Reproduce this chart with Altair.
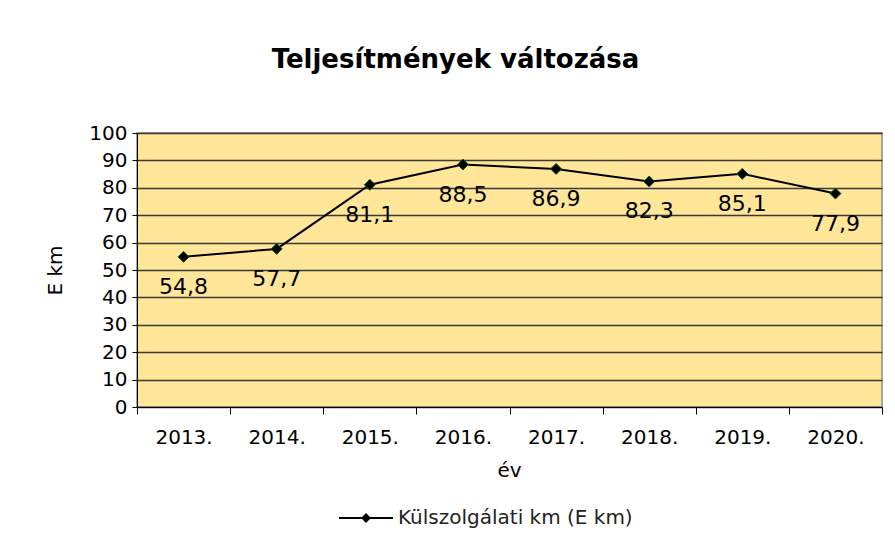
import altair as alt
import pandas as pd

years = ["2013.", "2014.", "2015.", "2016.", "2017.", "2018.", "2019.", "2020."]
values = [54.8, 57.7, 81.1, 88.5, 86.9, 82.3, 85.1, 77.9]
series_name = "Külszolgálati km (E km)"
y_ticks = list(range(0, 101, 10))

df = pd.DataFrame({
    "ev": years,
    "km": values,
    "label": [f"{v:.1f}".replace(".", ",") for v in values],
    "series": [series_name] * len(years),
})

FONT = "DejaVu Sans"

x = alt.X(
    "ev:N", sort=years, title="év",
    scale=alt.Scale(paddingInner=0, paddingOuter=0),
    axis=alt.Axis(
        labelAngle=0, tickBand="extent", tickSize=7, tickColor="black",
        domainColor="black", labelFont=FONT, labelFontSize=20, labelColor="black",
        labelBaseline="middle", labelPadding=23, grid=False,
        titleFont=FONT, titleFontSize=20, titleFontWeight="normal", titleColor="black",
        titleX=372, titleY=63, titleBaseline="middle", titleAlign="center",
    ),
)
y = alt.Y(
    "km:Q", title="E km",
    scale=alt.Scale(domain=[0, 100], nice=False),
    axis=alt.Axis(
        values=y_ticks, tickSize=5, tickColor="black", domainColor="black",
        labelFont=FONT, labelFontSize=20, labelColor="black", labelPadding=5,
        gridColor="#3a3a3a", gridWidth=1.3,
        titleFont=FONT, titleFontSize=20, titleFontWeight="normal", titleColor="black",
        titleX=-82, titleY=137, titleAngle=270, titleAlign="center", titleBaseline="middle",
    ),
)

base = alt.Chart(df).encode(x=x, y=y)

line = base.mark_line(color="black", strokeWidth=2)

legend_symbol = "M-1,0L1,0M-0.13,0L0,-0.13L0.13,0L0,0.13Z"
points = base.mark_point(
    shape="diamond", filled=True, size=121, stroke="#0b5e0b", strokeWidth=1, opacity=1
).encode(
    color=alt.Color(
        "series:N",
        scale=alt.Scale(domain=[series_name], range=["black"]),
        legend=alt.Legend(
            title=None, orient="none", legendX=201, legendY=357,
            symbolType=legend_symbol, symbolSize=2916,
            symbolStrokeColor="black", symbolStrokeWidth=2,
            labelFont=FONT, labelFontSize=20, labelColor="#222222",
            labelOffset=4, labelLimit=500, padding=0,
        ),
    )
)

labels = base.mark_text(
    dy=30, fontSize=22, font=FONT, color="black", baseline="middle", align="center"
).encode(text="label:N")

chart = alt.layer(line, points, labels).properties(
    width=745,
    height=274,
    title=alt.TitleParams(
        "Teljesítmények változása", font=FONT, fontSize=26, fontWeight="bold",
        color="black", anchor="middle", frame="group", dx=-54, offset=29,
        baseline="alphabetic",
    ),
    padding={"left": 129, "top": 125, "right": 5, "bottom": 141},
    autosize="none",
).configure(
    background="white"
).configure_view(
    fill="#FFE699", stroke="#8a8a8a", strokeWidth=1.5
)

chart.save("out.html", embed_options={"renderer": "svg", "actions": False})
